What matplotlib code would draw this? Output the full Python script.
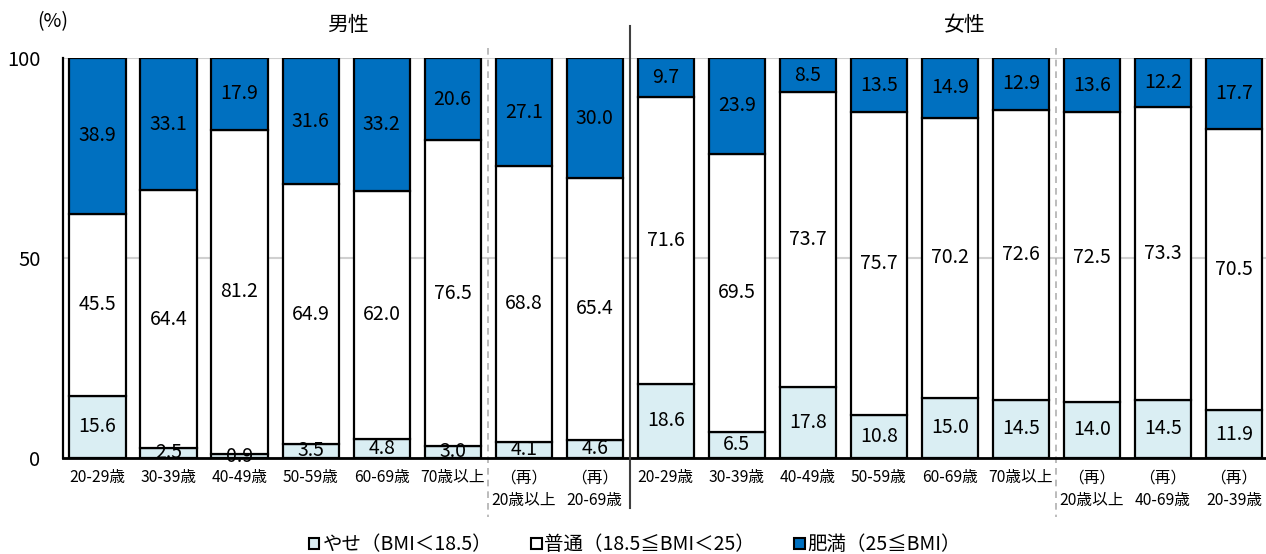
import matplotlib
matplotlib.use("Agg")
import matplotlib.pyplot as plt
from matplotlib.patches import Patch
import numpy as np

plt.rcParams['font.family'] = ['Noto Sans CJK JP', 'DejaVu Sans']

categories = ["20-29歳", "30-39歳", "40-49歳", "50-59歳", "60-69歳", "70歳以上",
              "（再）\n20歳以上", "（再）\n20-69歳",
              "20-29歳", "30-39歳", "40-49歳", "50-59歳", "60-69歳", "70歳以上",
              "（再）\n20歳以上", "（再）\n40-69歳", "（再）\n20-39歳"]
yase = [15.6, 2.5, 0.9, 3.5, 4.8, 3.0, 4.1, 4.6,
        18.6, 6.5, 17.8, 10.8, 15.0, 14.5, 14.0, 14.5, 11.9]
futsu = [45.5, 64.4, 81.2, 64.9, 62.0, 76.5, 68.8, 65.4,
         71.6, 69.5, 73.7, 75.7, 70.2, 72.6, 72.5, 73.3, 70.5]
himan = [38.9, 33.1, 17.9, 31.6, 33.2, 20.6, 27.1, 30.0,
         9.7, 23.9, 8.5, 13.5, 14.9, 12.9, 13.6, 12.2, 17.7]
group_titles = ["男性", "女性"]
legend_labels = ["やせ（BMI＜18.5）", "普通（18.5≦BMI＜25）", "肥満（25≦BMI）"]

c_yase = "#DAEEF3"
c_futsu = "#FFFFFF"
c_himan = "#0070C0"

fig = plt.figure(figsize=(12.66, 5.54), dpi=100)
ax = fig.add_axes([0.0495, 0.1733, 0.9505, 0.8953 - 0.1733])

x = np.arange(len(categories))
w = 0.79
yase_a = np.array(yase)
futsu_a = np.array(futsu)
himan_a = np.array(himan)
total = 100.0
bottom3 = total - himan_a

ax.set_axisbelow(True)
for gy in [0, 50, 100]:
    ax.axhline(gy, color="#D0D0D0", lw=1.5, zorder=0)

ax.bar(x, yase_a, width=w, color=c_yase, edgecolor="black", lw=1.6, zorder=2)
ax.bar(x, bottom3 - yase_a, bottom=yase_a, width=w, color=c_futsu, edgecolor="black", lw=1.6, zorder=2)
ax.bar(x, himan_a, bottom=bottom3, width=w, color=c_himan, edgecolor="black", lw=1.6, zorder=2)

fs = 14
for i in range(len(x)):
    ax.text(x[i], yase_a[i] / 2, f"{yase[i]:.1f}", ha="center", va="center", fontsize=fs, zorder=3)
    ax.text(x[i], (yase_a[i] + bottom3[i]) / 2, f"{futsu[i]:.1f}", ha="center", va="center", fontsize=fs, zorder=3)
    ax.text(x[i], bottom3[i] + himan_a[i] / 2, f"{himan[i]:.1f}", ha="center", va="center", fontsize=fs, zorder=3)

ax.set_xlim(-0.49, 16.45)
ax.set_ylim(0, 100)
ax.set_yticks([0, 50, 100])
ax.set_yticklabels(["0", "50", "100"], fontsize=14.5)
ax.set_xticks(x)
ax.set_xticklabels(categories, fontsize=11.3, linespacing=1.45, va="top")
ax.tick_params(axis="both", length=0)
ax.tick_params(axis="x", pad=8)
ax.tick_params(axis="y", pad=16)
for s in ["top", "right"]:
    ax.spines[s].set_visible(False)
ax.spines["left"].set_linewidth(1.6)
ax.spines["bottom"].set_linewidth(2.0)
ax.spines["left"].set_zorder(4)
ax.spines["bottom"].set_zorder(4)

trans = ax.get_xaxis_transform()
def yfrac(py):
    return ((554 - py) / 554 - 0.1733) / (0.8953 - 0.1733)

ax.plot([5.5, 5.5], [yfrac(48), yfrac(517)], transform=trans, color="#B0B0B0", lw=1.2,
        ls=(0, (4, 3)), clip_on=False, zorder=1)
ax.plot([13.5, 13.5], [yfrac(48), yfrac(517)], transform=trans, color="#B0B0B0", lw=1.2,
        ls=(0, (4, 3)), clip_on=False, zorder=1)
ax.plot([7.5, 7.5], [yfrac(26), yfrac(508)], transform=trans, color="#404040", lw=1.5,
        clip_on=False, zorder=5)

fig.text(53 / 1266, 1 - 22 / 554, "(%)", ha="center", va="center", fontsize=14)
fig.text(348 / 1266, 1 - 25 / 554, group_titles[0], ha="center", va="center", fontsize=15)
fig.text(965 / 1266, 1 - 25 / 554, group_titles[1], ha="center", va="center", fontsize=15)

handles = [Patch(facecolor=c, edgecolor="black", lw=1.5) for c in [c_yase, c_futsu, c_himan]]
fig.legend(handles, legend_labels, loc="center", bbox_to_anchor=(635 / 1266, 1 - 545 / 554),
           ncol=3, frameon=False, fontsize=14, handlelength=0.55, handleheight=0.55,
           handletextpad=0.15, columnspacing=2.0, borderaxespad=0)

fig.savefig("out.png", dpi=100)
